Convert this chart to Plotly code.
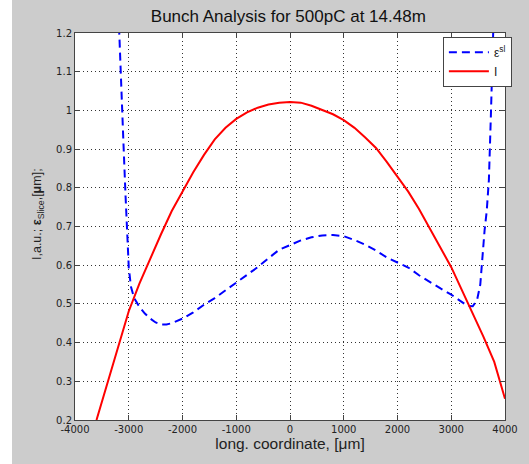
import plotly.graph_objects as go

# Longitudinal coordinate grid [um] and beam current profile I [a.u.]
x_current = [-3600, -3400, -3200, -3000, -2800, -2600, -2400, -2200, -2000, -1800,
             -1600, -1400, -1200, -1000, -800, -600, -400, -200, 0, 200,
             400, 600, 800, 1000, 1200, 1400, 1600, 1800, 2000, 2200,
             2400, 2600, 2800, 3000, 3200, 3400, 3600, 3800, 4000]
current = [0.20, 0.295, 0.387, 0.481, 0.553, 0.618, 0.68, 0.74, 0.79, 0.84,
           0.885, 0.925, 0.955, 0.978, 0.995, 1.007, 1.015, 1.02, 1.022, 1.02,
           1.012, 1.0, 0.99, 0.975, 0.955, 0.93, 0.903, 0.867, 0.83, 0.79,
           0.745, 0.695, 0.645, 0.595, 0.535, 0.475, 0.415, 0.35, 0.255]

# Slice emittance [um]
x_slice = [-3190, -3150, -3100, -3060, -3030, -3000, -2960, -2900, -2800, -2700,
           -2600, -2500, -2400, -2300, -2200, -2000, -1800, -1600, -1400, -1200,
           -1000, -800, -600, -400, -200, 0, 200, 400, 600, 800,
           1000, 1200, 1400, 1600, 1800, 2000, 2200, 2400, 2600, 2800,
           3000, 3200, 3300, 3400, 3480, 3540, 3580, 3620, 3660, 3700,
           3740, 3780, 3800]
emit_slice = [1.25, 1.08, 0.92, 0.78, 0.67, 0.595, 0.545, 0.515, 0.492, 0.475,
              0.462, 0.452, 0.447, 0.447, 0.45, 0.462, 0.478, 0.498, 0.515, 0.535,
              0.556, 0.575, 0.595, 0.618, 0.64, 0.652, 0.664, 0.672, 0.677, 0.678,
              0.675, 0.665, 0.653, 0.638, 0.62, 0.607, 0.594, 0.574, 0.556, 0.54,
              0.524, 0.505, 0.495, 0.494, 0.51, 0.55, 0.63, 0.69, 0.74, 0.82,
              1.0, 1.2, 1.3]

x_ticks = [-4000, -3000, -2000, -1000, 0, 1000, 2000, 3000, 4000]
x_tick_labels = ["-4000", "-3000", "-2000", "-1000", "0", "1000", "2000", "3000", "4000"]
y_ticks = [0.2, 0.3, 0.4, 0.5, 0.6, 0.7, 0.8, 0.9, 1.0, 1.1, 1.2]
y_tick_labels = ["0.2", "0.3", "0.4", "0.5", "0.6", "0.7", "0.8", "0.9", "1", "1.1", "1.2"]

W, H = 529, 464
ML, MR, MT, MB = 75, 24, 33, 44
PW, PH = W - ML - MR, H - MT - MB

fig = go.Figure()
fig.add_trace(go.Scatter(
    x=x_slice, y=emit_slice, mode="lines", name="ε<sup>sl</sup>",
    line=dict(color="#0000ff", width=2, dash="8px,5px"),
))
fig.add_trace(go.Scatter(
    x=x_current, y=current, mode="lines", name="I",
    line=dict(color="#ff0000", width=2),
))

axis_common = dict(
    showline=True, linecolor="#444444", linewidth=1, mirror="ticks",
    ticks="inside", ticklen=5, tickcolor="#444444",
    showgrid=True, gridcolor="#333333", gridwidth=1, griddash="1px,3px",
    zeroline=False,
    tickfont=dict(family="DejaVu Sans", size=10, color="#222222"),
)

fig.update_xaxes(
    range=[-4000, 4000], tickvals=x_ticks, ticktext=x_tick_labels,
    title=dict(text="long. coordinate, [μm]", standoff=2,
               font=dict(family="Liberation Sans", size=15.5, color="#222222")),
    **axis_common,
)
fig.update_yaxes(
    range=[0.2, 1.2], tickvals=y_ticks, ticktext=y_tick_labels,
    **axis_common,
)

# Vertical axis label, placed as a rotated annotation
fig.add_annotation(
    text="I,a.u.; <b>ε</b><sub>Slice</sub>,[<b>μ</b>m];",
    xref="paper", yref="paper",
    x=(38 - ML) / PW, y=(H - MB - 214) / PH,
    xanchor="center", yanchor="middle", textangle=-90, showarrow=False,
    font=dict(family="Liberation Sans", size=12.5, color="#222222"),
)

# Narrow white strip along the left edge of the figure
fig.add_shape(
    type="rect", xref="paper", yref="paper", layer="below",
    x0=-ML / PW, x1=(12 - ML) / PW, y0=-MB / PH, y1=(H - MB) / PH,
    fillcolor="#ffffff", line=dict(width=0),
)

fig.update_layout(
    width=W, height=H,
    margin=dict(l=ML, r=MR, t=MT, b=MB),
    paper_bgcolor="#cccccc", plot_bgcolor="#ffffff",
    title=dict(text="Bunch Analysis for 500pC at 14.48m", x=0.545, xanchor="center",
               y=0.966, yanchor="middle",
               font=dict(family="Liberation Sans", size=17, color="#111111")),
    showlegend=True,
    legend=dict(x=1.016, y=0.99, xanchor="right", yanchor="top",
                bgcolor="#ffffff", bordercolor="#444444", borderwidth=1,
                font=dict(family="Liberation Sans", size=12, color="#222222"),
                itemwidth=40, tracegroupgap=2),
)

fig.write_html("out.html")
